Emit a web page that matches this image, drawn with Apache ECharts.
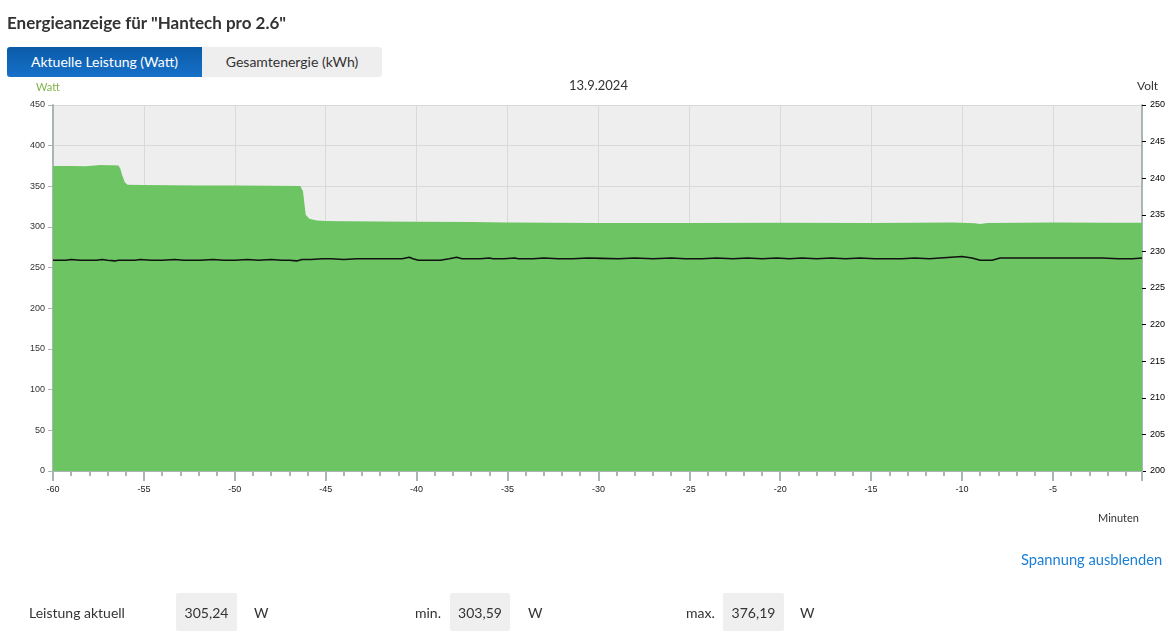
<!DOCTYPE html>
<html>
<head>
<meta charset="utf-8">
<script src="https://cdn.jsdelivr.net/npm/echarts@6/dist/echarts.min.js"></script>
<style>
  html, body { margin:0; padding:0; background:#fff; width:1172px; height:633px; overflow:hidden; font-family: Lato, "Open Sans", sans-serif; color:#333; }
  #chart { position:absolute; left:0; top:0; width:1172px; height:633px; }
  .abs { position:absolute; white-space:nowrap; }
  #title { left:7px; top:12px; font-size:17px; font-weight:bold; color:#333; }
  .tab { position:absolute; top:47px; height:30px; line-height:30px; text-align:center; font-size:14px; }
  #tab1 { left:7px; width:195px; background:linear-gradient(#0b5aa8,#1671c9); color:#fff; border-radius:3px 0 0 3px; }
  #tab2 { left:202px; width:180px; background:#eeeeee; color:#333; border-radius:0 3px 3px 0; }
  #toggle { left:1021px; top:550px; font-size:14.7px; color:#1b7fd6; }
  .lbl { top:604px; font-size:14px; color:#333; }
  .box { position:absolute; top:593px; height:38px; line-height:40px; background:#efefef; text-align:center; font-size:14px; color:#333; border-radius:2px; }
</style>
</head>
<body>
<div id="chart"></div>
<div id="title" class="abs">Energieanzeige für "Hantech pro 2.6"</div>
<div id="tab1" class="tab">Aktuelle Leistung (Watt)</div>
<div id="tab2" class="tab">Gesamtenergie (kWh)</div>
<div id="toggle" class="abs">Spannung ausblenden</div>
<div class="abs lbl" style="left:29px;">Leistung aktuell</div>
<div class="box" style="left:176px;width:61px;">305,24</div>
<div class="abs lbl" style="left:254px;">W</div>
<div class="abs lbl" style="left:415px;">min.</div>
<div class="box" style="left:450px;width:60px;">303,59</div>
<div class="abs lbl" style="left:528px;">W</div>
<div class="abs lbl" style="left:686px;">max.</div>
<div class="box" style="left:723px;width:61px;">376,19</div>
<div class="abs lbl" style="left:800px;">W</div>
<script>
// ---- data ----
const dateLabel = '13.9.2024';
const xTickLabels = [-60, -55, -50, -45, -40, -35, -30, -25, -20, -15, -10, -5];

const powerTimes = [-60, -59, -58.2, -57.7, -57.4, -57.0, -56.7, -56.4, -56.3, -56.2, -56.05, -55.9, -55, -52, -50, -48, -46.4, -46.25, -46.1, -45.9, -45.5, -45, -44, -40, -37, -35, -30, -25, -20, -15, -10.5, -9.3, -9, -8.6, -5, -2, -0.1];
const powerValues = [375, 375, 374.6, 375.6, 376.19, 375.8, 376, 375.6, 372, 364, 355, 352, 351.5, 351, 351, 350.6, 350.5, 344, 315, 310, 308, 307.5, 307, 306.4, 306, 305.5, 305, 305, 305.2, 305, 305.5, 304.6, 303.59, 304.8, 305.4, 305.3, 305.24];

const voltTimes = [-60, -59.3, -59.0, -58.5, -58.4, -58.2, -57.6, -57.3, -57.0, -56.6, -56.4, -55.5, -55.2, -54.6, -54.0, -53.3, -52.8, -51.9, -51.2, -50.6, -50.0, -49.3, -48.7, -48.0, -47.4, -47.0, -46.6, -46.3, -45.8, -45.2, -44.7, -44.0, -43.3, -42.6, -42.0, -41.4, -40.8, -40.4, -40.2, -39.9, -39.2, -38.7, -38.2, -37.8, -37.5, -37.0, -36.5, -36.0, -35.8, -35.2, -34.6, -34.4, -33.6, -33.0, -32.2, -31.4, -30.6, -29.8, -28.9, -28.0, -27.0, -26.0, -25.2, -24.3, -23.5, -22.6, -21.8, -21.0, -20.2, -19.5, -18.8, -18.0, -17.2, -16.4, -15.6, -14.8, -14.0, -13.3, -12.6, -11.8, -11.2, -10.6, -10.0, -9.45, -9.0, -8.35, -7.9, -7.0, -6.0, -5.0, -4.0, -3.0, -2.3, -1.4, -0.6, -0.1];
const voltValues = [228.8, 228.8, 228.9, 228.8, 228.7, 228.8, 228.8, 228.9, 228.8, 228.7, 228.8, 228.8, 228.9, 228.8, 228.8, 228.9, 228.8, 228.8, 228.9, 228.8, 228.8, 228.9, 228.8, 228.9, 228.8, 228.8, 228.7, 228.9, 228.9, 229.0, 229.0, 228.9, 229.0, 229.0, 229.0, 229.0, 229.0, 229.2, 229.0, 228.8, 228.8, 228.8, 229.0, 229.2, 229.0, 229.0, 229.0, 229.1, 229.0, 229.0, 229.1, 229.0, 229.0, 229.1, 229.0, 229.0, 229.1, 229.05, 229.0, 229.1, 229.0, 229.1, 229.0, 229.0, 229.1, 229.0, 229.1, 229.0, 229.1, 229.0, 229.1, 229.0, 229.1, 229.0, 229.1, 229.0, 229.0, 229.0, 229.1, 229.0, 229.1, 229.2, 229.3, 229.1, 228.8, 228.8, 229.1, 229.1, 229.1, 229.1, 229.1, 229.1, 229.1, 229.0, 229.0, 229.1];

// ---- chart ----
const chart = echarts.init(document.getElementById('chart'), null, { renderer: 'canvas' });
const pData = powerTimes.map((t, i) => [t, powerValues[i]]);
const vData = voltTimes.map((t, i) => [t, voltValues[i]]);
const axisGray = '#aab6b6';

chart.setOption({
  animation: false,
  grid: { left: 53, right: 30, top: 105, bottom: 162, show: true, backgroundColor: '#eeeeee', borderWidth: 0 },
  graphic: [
    { type: 'text', left: 36, top: 82, style: { text: 'Watt', fill: '#86b24c', font: '11px Lato, sans-serif' } },
    { type: 'text', left: 569, top: 79, style: { text: dateLabel, fill: '#333', font: '13px Lato, sans-serif' } },
    { type: 'text', left: 1137, top: 80, style: { text: 'Volt', fill: '#333', font: '12px Lato, sans-serif' } },
    { type: 'text', left: 1098, top: 513, style: { text: 'Minuten', fill: '#333', font: '11px Lato, sans-serif' } }
  ],
  xAxis: {
    type: 'value', min: -60, max: -0.1, interval: 5,
    axisLine: { show: true, lineStyle: { color: axisGray, width: 2 } },
    axisTick: { show: true, length: 10, lineStyle: { color: axisGray, width: 2 } },
    minorTick: { show: true, splitNumber: 5, length: 5, lineStyle: { color: axisGray, width: 2 } },
    axisLabel: { fontSize: 9, color: '#222', margin: 14, fontFamily: 'Liberation Sans, Arial, sans-serif',
      formatter: v => (xTickLabels.indexOf(v) >= 0) ? String(v) : '' },
    splitLine: { show: true, lineStyle: { color: '#d9d9d9', width: 1 } }
  },
  yAxis: [
    {
      type: 'value', min: 0, max: 450, interval: 50, position: 'left',
      axisLine: { show: true, lineStyle: { color: axisGray, width: 2 } },
      axisTick: { show: true, length: 5, lineStyle: { color: axisGray, width: 1 } },
      axisLabel: { fontSize: 9, color: '#333', margin: 8, fontFamily: 'Liberation Sans, Arial, sans-serif' },
      splitLine: { show: true, lineStyle: { color: '#d9d9d9', width: 1 } }
    },
    {
      type: 'value', min: 200, max: 250, interval: 5, position: 'right',
      axisLine: { show: true, lineStyle: { color: axisGray, width: 2 } },
      axisTick: { show: true, length: 4, lineStyle: { color: '#000', width: 1 } },
      axisLabel: { fontSize: 9, color: '#000', margin: 8, fontFamily: 'Liberation Sans, Arial, sans-serif' },
      splitLine: { show: false }
    }
  ],
  series: [
    {
      name: 'Leistung', type: 'line', yAxisIndex: 0, data: pData, showSymbol: false, symbol: 'none',
      lineStyle: { width: 0, color: '#6cc463' },
      areaStyle: { color: '#6cc463', opacity: 1 }, z: 2
    },
    {
      name: 'Spannung', type: 'line', yAxisIndex: 1, data: vData, showSymbol: false, symbol: 'none',
      lineStyle: { width: 1.6, color: '#111' }, z: 3
    }
  ]
});
</script>
</body>
</html>
